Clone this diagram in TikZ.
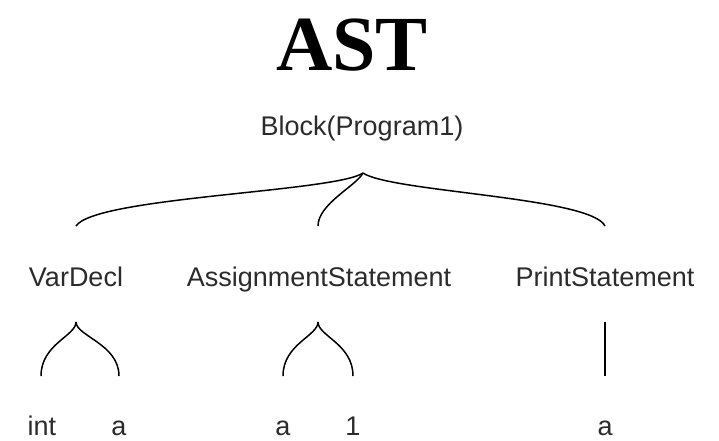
\documentclass[tikz,border=0pt]{standalone}
\usepackage{fontspec}
\setmainfont{Liberation Serif}
\setsansfont{Liberation Sans}
\definecolor{astgray}{HTML}{2B2B2B}

\tikzset{
  astnode/.style={font=\sffamily\fontsize{27}{32}\selectfont, text=astgray, anchor=base, inner sep=0pt},
  branch/.style={line width=1.5pt, black},
}

\begin{document}
\begin{tikzpicture}[x=1pt, y=-1pt]
        \useasboundingbox (0,0) rectangle (719,440);

        \node[anchor=base, inner sep=0pt, font=\rmfamily\bfseries\fontsize{78}{90}\selectfont] (title) at (352,70) {AST};

        \node[astnode] (block) at (362,135) {Block(Program1)};
        \node[astnode] (vardecl) at (76,286) {VarDecl};
        \node[astnode] (assign) at (319,286) {AssignmentStatement};
        \node[astnode] (print) at (605,286) {PrintStatement};

        \node[astnode] (int) at (42,435) {int};
        \node[astnode] (var a) at (119,435) {a};
        \node[astnode] (target a) at (283,435) {a};
        \node[astnode] (one) at (353,435) {1};
        \node[astnode] (print a) at (605,435) {a};

        % forks and ends of the braces
        \coordinate (block fork) at (363,173);
        \coordinate (vardecl top) at (76,226);
        \coordinate (assign top) at (318,226);
        \coordinate (print top) at (605,226);
        \coordinate (vardecl fork) at (76,322);
        \coordinate (assign fork) at (318,322);
        \coordinate (print fork) at (605,322);
        \coordinate (int top) at (41,376);
        \coordinate (var a top) at (119,376);
        \coordinate (target a top) at (283,376);
        \coordinate (one top) at (353,376);
        \coordinate (print a top) at (605,376);

        \draw[branch] (block fork) .. controls (335,192) and (95,197) .. (vardecl top);
        \draw[branch] (block fork) .. controls (356,186) and (318,204) .. (assign top);
        \draw[branch] (block fork) .. controls (391,192) and (591,197) .. (print top);

        \draw[branch] (vardecl fork) .. controls (76,336) and (41,344) .. (int top);
        \draw[branch] (vardecl fork) .. controls (76,336) and (119,344) .. (var a top);
        \draw[branch] (assign fork) .. controls (318,336) and (283,344) .. (target a top);
        \draw[branch] (assign fork) .. controls (318,336) and (353,344) .. (one top);
        \draw[branch] (print fork) -- (print a top);
\end{tikzpicture}
\end{document}
